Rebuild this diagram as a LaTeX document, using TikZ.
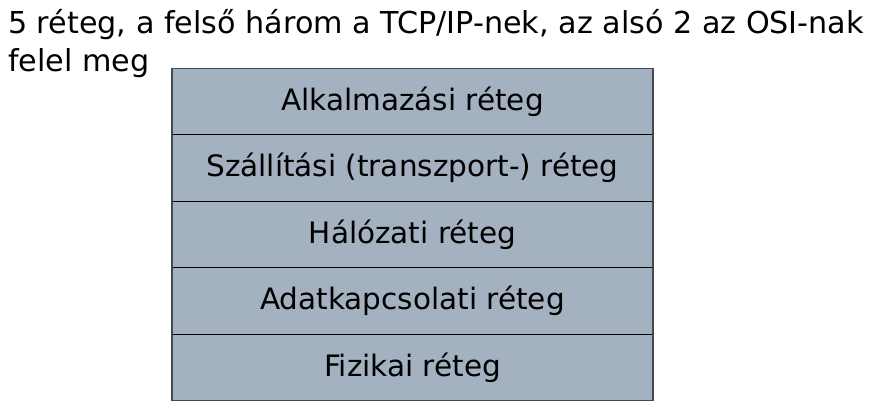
\documentclass[tikz,border=0pt]{standalone}
\usepackage{fontspec}
\setmainfont{DejaVu Sans}
\usepackage{xcolor}
\usepackage{tikz}
\usetikzlibrary{positioning}
\definecolor{layerfill}{RGB}{164,177,192}
\definecolor{layeredge}{RGB}{70,72,80}

\begin{document}
\begin{tikzpicture}[x=1pt, y=-1pt,
    layer/.style={rectangle, draw=black, line width=1pt, fill=layerfill, minimum width=481pt, minimum height=66.4pt, inner sep=0pt, outer sep=0pt, font=\fontsize{29.5}{34}\selectfont},
    title/.style={anchor=base west, align=left, inner sep=0pt, font=\fontsize{30.2}{38}\selectfont}
]
    \useasboundingbox (0,0) rectangle (875,408);
    % base anchor sits on the last line
    \node[title] (cim) at (8,71) {5 réteg, a felső három a TCP/IP-nek, az alsó 2 az OSI-nak\\felel meg};

    \node[layer] (alk) at (412.5,101.7) {Alkalmazási réteg};
    \node[layer, below=0pt of alk] (szall) {Szállítási (transzport-) réteg};
    \node[layer, below=0pt of szall] (hal) {Hálózati réteg};
    \node[layer, below=0pt of hal] (adat) {Adatkapcsolati réteg};
    \node[layer, below=0pt of adat] (fiz) {Fizikai réteg};

    \draw[layeredge, line width=1.5pt] (alk.north west) rectangle (fiz.south east);
\end{tikzpicture}
\end{document}
